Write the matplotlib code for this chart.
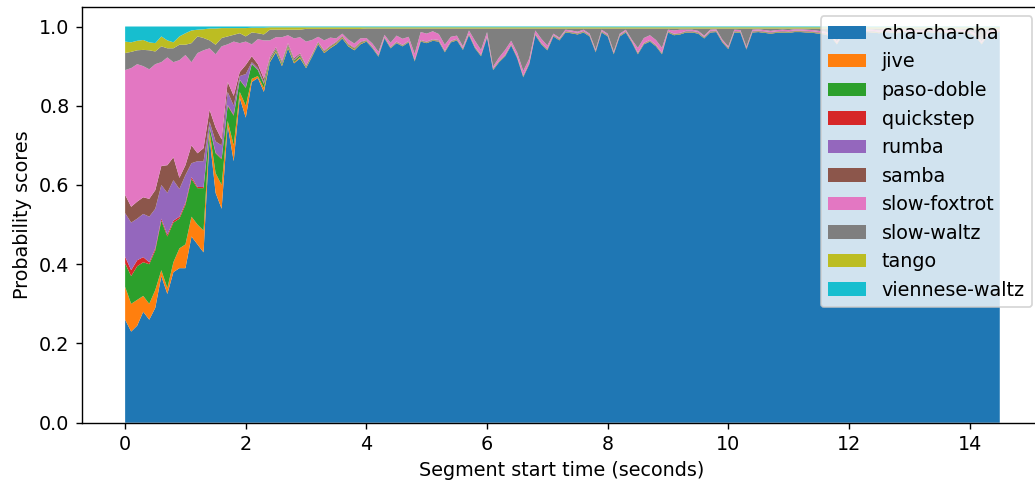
import matplotlib
matplotlib.use("Agg")
import matplotlib.pyplot as plt

# Segment start times (s), 0.1 s apart
times = [round(i * 0.1, 1) for i in range(146)]

labels = ["cha-cha-cha", "jive", "paso-doble", "quickstep", "rumba", "samba",
          "slow-foxtrot", "slow-waltz", "tango", "viennese-waltz"]

cha_cha_cha = [
    .26, .23, .245, .28, .26, .29, .37, .325, .38, .39,
    .39, .47, .45, .43, .72, .58, .54, .75, .66, .82,
    .77, .86, .87, .835, .91, .935, .90, .945, .907, .92,
    .895, .924, .955, .933, .945, .955, .97, .95, .94, .955,
    .962, .945, .924, .97, .945, .958, .95, .96, .912, .962,
    .958, .964, .962, .935, .96, .965, .941, .978, .945, .925,
    .972, .89, .91, .925, .952, .92, .872, .905, .978, .955,
    .94, .975, .965, .985, .983, .98, .985, .975, .935, .985,
    .975, .93, .975, .985, .96, .93, .955, .962, .95, .93,
    .985, .978, .98, .985, .985, .982, .97, .985, .986, .96,
    .943, .985, .984, .942, .985, .986, .984, .982, .984, .985,
    .984, .986, .986, .985, .984, .982, .98, .975, .955, .98,
    .984, .986, .984, .986, .985, .983, .986, .985, .983, .986,
    .985, .984, .982, .986, .985, .986, .983, .985, .986, .984,
    .982, .975, .955, .978, .985, .986,
]

jive = [.083, .07, .065, .04, .04, .045, .015, .015, .025, .05,
        .06, .05, .05, .055, .015, .05, .06, .012, .04, .015,
        .03, .008, .005, .01] + [.003] * 6 + [.002] * 10 + [.001] * 106

paso_doble = [.059, .07, .085, .085, .10, .10, .125, .13, .10, .075,
              .10, .095, .092, .107, .01, .05, .065, .038, .075, .03,
              .045, .037, .015, .01] + [.004] * 6 + [.002] * 10 + [.001] * 106

quickstep = [.017, .015, .015, .013, .005, .005, .005, .005, .005, .005,
             .005, .005, .003, .003, .002, .002, .002, .002, .002, .001,
             .001, .001, .001, .001] + [.001] * 6 + [.001] * 10 + [.0005] * 106

rumba = [.11, .12, .105, .109, .115, .10, .085, .105, .102, .07,
         .07, .035, .065, .065, .013, .028, .033, .033, .023, .009,
         .034, .004, .004, .004] + [.002] * 6 + [.001] * 10 + [.001] * 106

samba = [.046, .04, .043, .042, .045, .047, .048, .07, .058, .028,
         .025, .045, .02, .033, .03, .035, .015, .025, .025, .01,
         .023, .015, .01, .008] + [.003] * 6 + [.001] * 10 + [.0005] * 106

slow_foxtrot = [
    .315, .35, .347, .331, .327, .318, .262, .272, .24, .297,
    .278, .21, .253, .247, .155, .185, .235, .095, .137, .073,
    .059, .03, .063, .097, .042, .025, .06, .02, .05, .04,
    .06, .035, .012, .025, .02, .008, .005, .01, .01, .008,
    .005, .008, .008, .005, .01, .015, .015, .01, .015, .02,
    .02, .02, .015, .015, .01, .008, .005, .008, .015, .012,
    .01, .005, .008, .012, .008, .01, .012, .01, .008, .01,
    .008, .003, .003, .003, .003, .003, .003, .003, .003, .003,
    .003, .003, .003, .003, .003, .012, .012, .012, .012, .012,
    .003, .008, .008, .003, .003, .003, .003, .003, .003, .003,
    .003, .003, .003, .003, .003, .003, .003, .003, .003, .003,
    .003, .003, .003, .003, .003, .003, .003, .003, .003, .003,
    .003, .003, .003, .003, .003, .003, .003, .003, .003, .003,
    .003, .003, .003, .003, .003, .003, .003, .003, .003, .003,
    .003, .003, .003, .003, .003, .003,
]

slow_waltz = [
    .043, .041, .035, .041, .048, .032, .04, .023, .035, .039,
    .026, .048, .042, .031, .02, .024, .021, .02, .017, .025,
    .013, .03, .015, .015, .027, .019, .019, .014, .022, .019,
    .032, .028, .02, .029, .022, .024, .012, .027, .037, .024,
    .024, .038, .059, .016, .036, .018, .026, .021, .064, .009,
    .013, .007, .014, .041, .021, .018, .045, .005, .031, .054,
    .009, .096, .073, .054, .031, .061, .107, .076, .005, .026,
    .043, .013, .023, .003, .005, .008, .003, .013, .053, .003,
    .013, .058, .013, .003, .028, .049, .024, .017, .029, .049,
    .003, .005, .003, .003, .003, .006, .018, .003, .002, .028,
    .045, .003, .004, .046, .003, .002, .004, .006, .004, .003,
    .004, .002, .002, .003, .004, .006, .008, .013, .033, .008,
    .004, .002, .004, .002, .003, .005, .002, .003, .005, .002,
    .003, .004, .006, .002, .003, .002, .005, .003, .002, .004,
    .006, .013, .033, .010, .003, .002,
]

tango = [.029, .024, .024, .025, .02, .021, .025, .02, .015, .021,
         .029, .032, .017, .022, .03, .041, .025, .021, .017, .013,
         .021, .012, .014, .017] + [.006] * 6 + [.004] * 10 + [.003] * 106

viennese_waltz = [.038, .04, .036, .034, .04, .042, .025, .035, .04, .025,
                  .017, .01, .008, .007, .005, .005, .004, .004, .004, .004,
                  .004, .003, .003, .003] + [.002] * 6 + [.002] * 10 + [.002] * 106

series = [cha_cha_cha, jive, paso_doble, quickstep, rumba, samba,
          slow_foxtrot, slow_waltz, tango, viennese_waltz]

plt.rcParams["font.size"] = 11

W, H, DPI = 1035, 481, 125
fig = plt.figure(figsize=(W / DPI, H / DPI), dpi=DPI)
ax = fig.add_axes([81.7 / W, (H - 422.7) / H, (1042 - 81.7) / W, 416 / H])

ax.stackplot(times, *series, labels=labels)
ax.set_xlim(-0.72, 15.2)
ax.set_ylim(0, 1.05)
ax.set_xticks([0, 2, 4, 6, 8, 10, 12, 14])
ax.set_yticks([0.0, 0.2, 0.4, 0.6, 0.8, 1.0])
ax.set_xlabel("Segment start time (seconds)")
ax.set_ylabel("Probability scores")
ax.legend(loc="upper right")

fig.savefig("out.png", dpi=DPI)
